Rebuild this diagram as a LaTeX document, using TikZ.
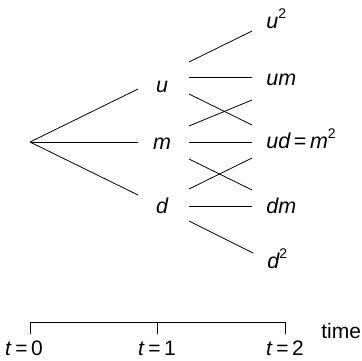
\documentclass[tikz,border=0pt]{standalone}
\usepackage{fontspec}
\setmainfont{Liberation Sans}
\usetikzlibrary{calc}
\tikzset{
  every picture/.style={line width=0.8pt},
  lbl/.style={font=\fontsize{21.5}{25}\selectfont\itshape, inner sep=0pt},
  stamp/.style={font=\fontsize{21}{25}\selectfont, inner sep=0pt},
}
\newcommand{\sqr}{\raisebox{0.42em}{\upshape\fontsize{14}{15}\selectfont 2}}

\begin{document}
\begin{tikzpicture}[x=1pt, y=-1pt]
  \useasboundingbox (0,0) rectangle (362,360);
  % root and first step
  \coordinate (o) at (30,142);
  \foreach \n/\y in {u/92, m/149, d/213}
    \node[lbl, anchor=base] (\n) at (162,\y) {\n};
  \foreach \n/\dy in {u/-3, m/-7, d/-18}
    \draw (o) -- ($(\n.base)+(-24,\dy)$);
  % second step
  \node[lbl, anchor=base west] (uu) at (266,28) {u\sqr};
  \node[lbl, anchor=base west] (um) at (266,85) {um};
  \node[lbl, anchor=base west] (ud) at (266,148) {ud\,{\upshape =}\,m\sqr};
  \node[lbl, anchor=base west] (dm) at (266,213) {dm};
  \node[lbl, anchor=base west] (dd) at (267,268) {d\sqr};
  \foreach \a/\sa/\b/\sb in {u/-30/uu/3, u/-15/um/-8, u/2/ud/-23,
      m/-23/um/15, m/-7/ud/-6, m/10/dm/-23,
      d/-24/ud/10, d/-7/dm/-7, d/8/dd/-15}
    \draw ($(\a.base)+(27,\sa)$) -- ($(\b.base west)+(-14,\sb)$);
  % time axis
  \foreach \i/\x/\lx in {0/30/24, 1/157/157, 2/285/285} {
    \coordinate (k\i) at (\x,322);
    \node[stamp, anchor=base] (t\i) at (\lx,355) {\textit{t}\,=\,\i};
  }
  \draw (k0) -- (k2);
  \foreach \i in {0,1,2}
    \draw (k\i) -- ++(0,12);
  \node[stamp, anchor=base west] (time) at (321,338) {time};
\end{tikzpicture}
\end{document}
